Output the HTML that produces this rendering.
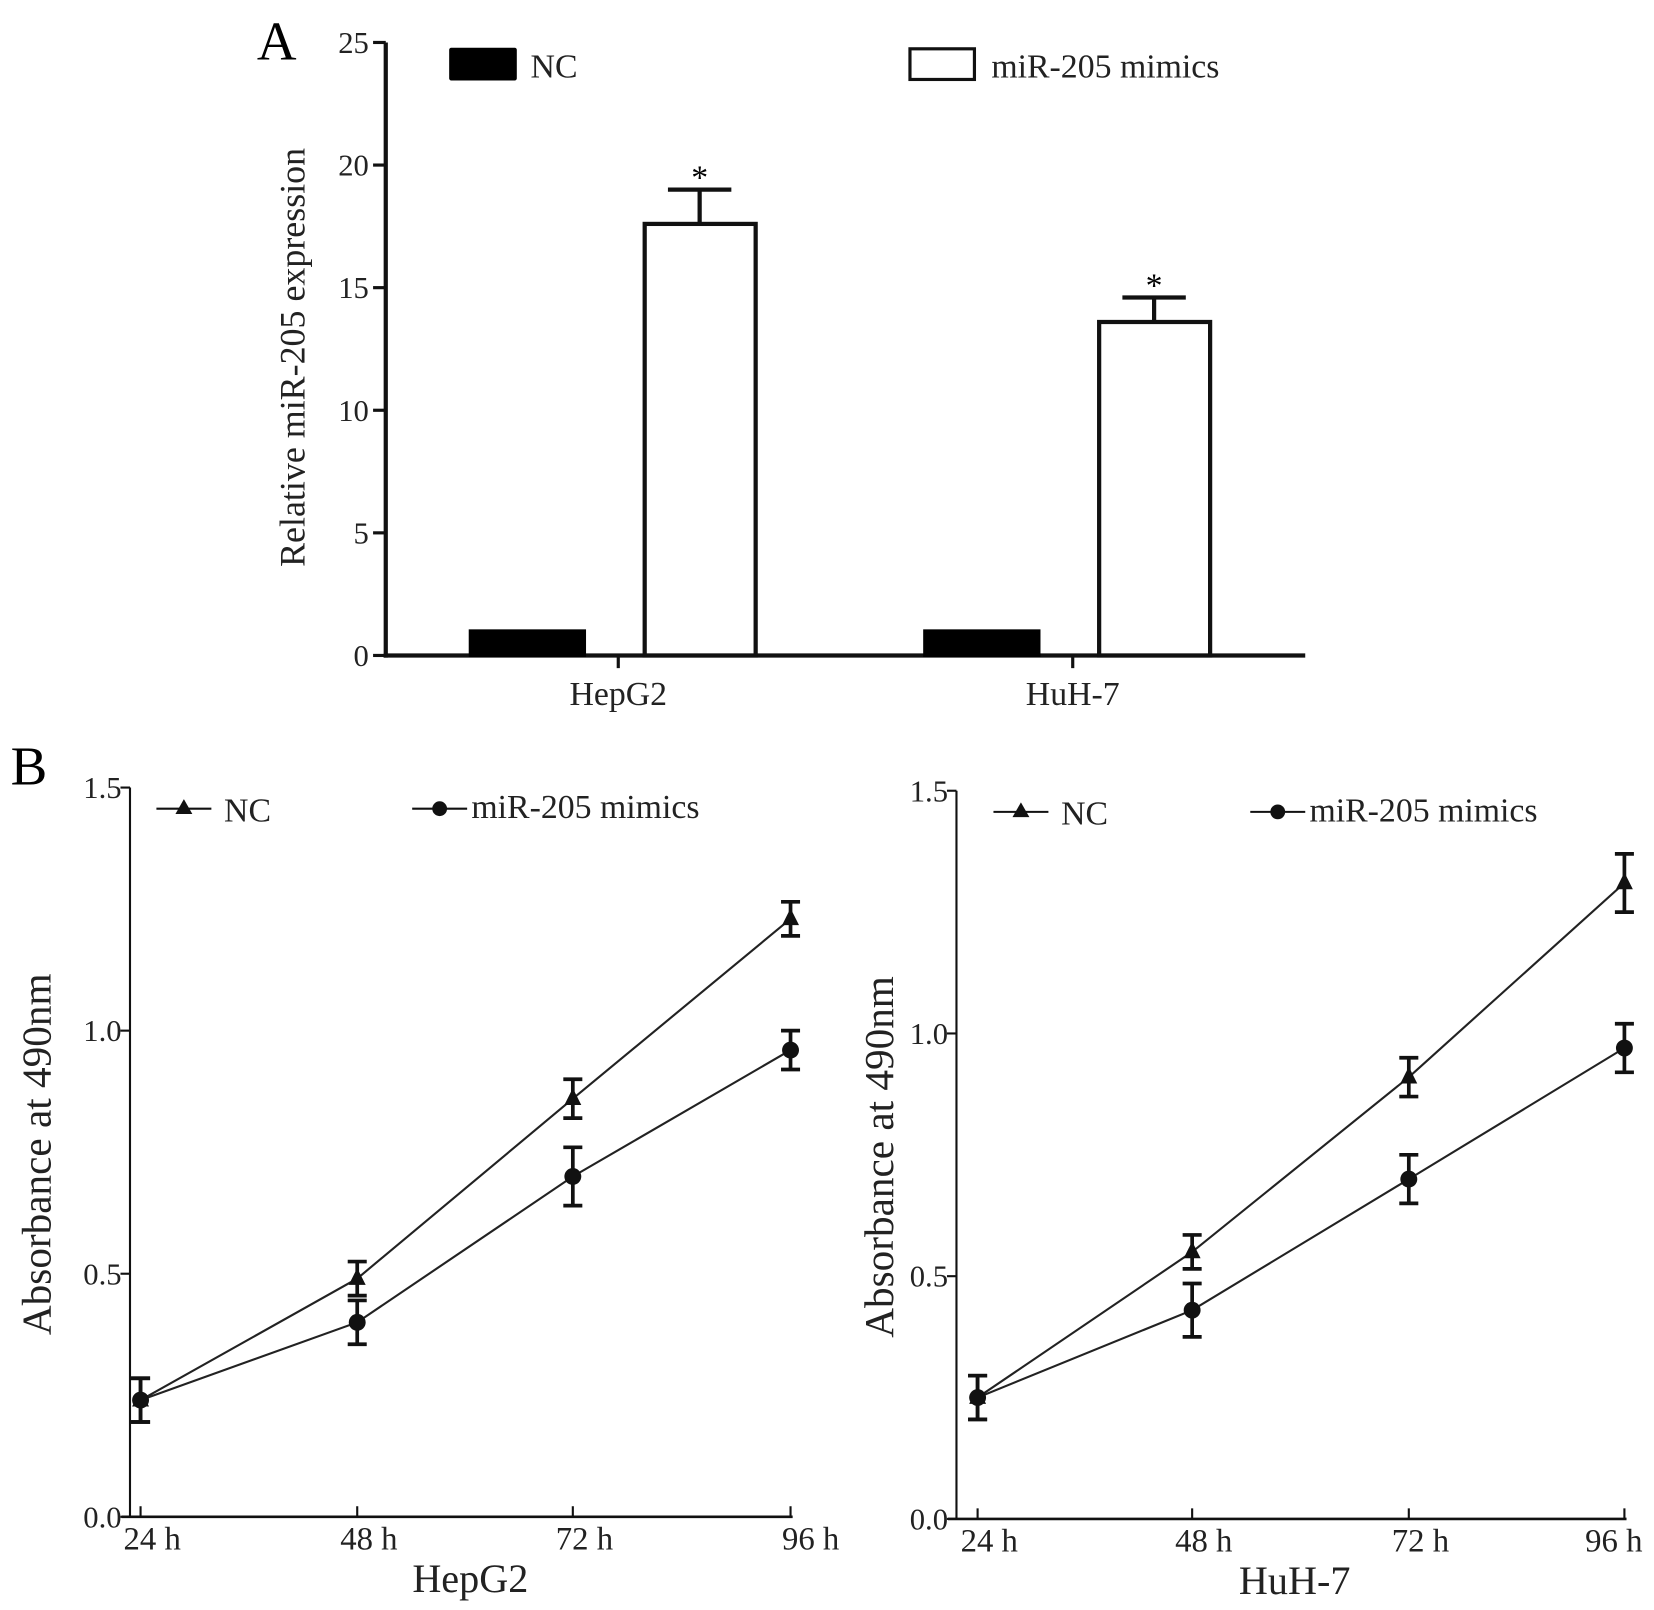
<!DOCTYPE html>
<html><head><meta charset="utf-8"><style>
html,body{margin:0;padding:0;background:#fff;}
svg{display:block;font-family:"Liberation Serif",serif;}
</style></head><body>
<svg id="fig" width="1654" height="1610" viewBox="0 0 1565 1523" xmlns="http://www.w3.org/2000/svg">
<rect width="1565" height="1523" fill="#fff"/>
<g id="panelA"></g>
<g id="panelB1"></g>
<g id="panelB2"></g>
</svg>
<script>
// Panel A data
const aCategories = ["HepG2", "HuH-7"];
const aNC = [1.0, 1.0];
const aMimics = [17.6, 13.6];
const aMimicsErr = [1.4, 1.0];
const aTicks = [0, 5, 10, 15, 20, 25];
// Panel B data
const bTimes = ["24 h", "48 h", "72 h", "96 h"];
const bTicks = [0.0, 0.5, 1.0, 1.5];
const hepNC = [0.24, 0.49, 0.86, 1.23];
const hepNCErr = [0.045, 0.035, 0.04, 0.035];
const hepMim = [0.24, 0.40, 0.70, 0.96];
const hepMimErr = [0.045, 0.045, 0.06, 0.04];
const huhNC = [0.25, 0.55, 0.91, 1.31];
const huhNCErr = [0.045, 0.035, 0.04, 0.06];
const huhMim = [0.25, 0.43, 0.70, 0.97];
const huhMimErr = [0.045, 0.055, 0.05, 0.05];

const NS = "http://www.w3.org/2000/svg";
function mk(parent, tag, attrs, text){
  const e = document.createElementNS(NS, tag);
  for (const k in attrs) e.setAttribute(k, attrs[k]);
  if (text !== undefined) e.textContent = text;
  parent.appendChild(e);
  return e;
}
function ln(p, x1,y1,x2,y2,w){ return mk(p,'line',{x1,y1,x2,y2,stroke:'#111','stroke-width':w||3}); }

// ---------- Panel A ----------
(function(){
  const g = document.getElementById('panelA');
  const x0 = 365, x1 = 1235, yb = 620, yt = 40;
  const y = v => yb - (v/25)*(yb-yt);
  const catCenter = [585, 1015];
  let t = mk(g,'text',{x:243,y:56,'font-size':52},'A');
   
  ln(g,x0,yt,x0,yb+2,4); ln(g,x0-2,yb,x1,yb,4);
  aTicks.forEach(v=>{
    ln(g,x0-12,y(v),x0,y(v),3);
    const tt = mk(g,'text',{x:x0-16,y:y(v)+10,'font-size':29,'text-anchor':'end',fill:'#222'},String(v));
     
  });
  const yt2 = mk(g,'text',{x:0,y:0,'font-size':34,'text-anchor':'middle',fill:'#222',transform:'translate(288,338) rotate(-90)'},'Relative miR-205 expression');
   
  aCategories.forEach((c,i)=>{
    const cx = catCenter[i];
    ln(g,cx,yb,cx,yb+12,3);
    const lb = mk(g,'text',{x:cx,y:yb+47,'font-size':32,'text-anchor':'middle',fill:'#222'},c);
     
    const b1 = mk(g,'rect',{x:cx-140,y:y(aNC[i]),width:108,height:yb-y(aNC[i]),fill:'#000',stroke:'#000','stroke-width':3});
     
    const bx = cx+25;
    const b2 = mk(g,'rect',{x:bx,y:y(aMimics[i]),width:105,height:yb-y(aMimics[i]),fill:'#fff',stroke:'#111','stroke-width':4});
     
    const ex = bx+52, et = y(aMimics[i]+aMimicsErr[i]);
    ln(g,ex,y(aMimics[i]),ex,et,4); ln(g,ex-30,et,ex+30,et,4);
    const st = mk(g,'text',{x:ex,y:et-1,'font-size':32,'text-anchor':'middle'},'*');
     
  });
  const l1 = mk(g,'rect',{x:425,y:45,width:64,height:31,fill:'#000',rx:2});
   
  const lt1 = mk(g,'text',{x:502,y:73,'font-size':32,fill:'#222'},'NC');
   
  const l2 = mk(g,'rect',{x:861,y:46,width:61,height:29,fill:'#fff',stroke:'#111','stroke-width':3});
   
  const lt2 = mk(g,'text',{x:938,y:73,'font-size':32,fill:'#222'},'miR-205 mimics');
   
})();

// ---------- Panel B ----------
function linePanel(id, cfg, nc, ncErr, mim, mimErr){
  const g = document.getElementById(id);
  const {ax, yb, yt, xs, xEnd, legX, legY, title, titleX, ytX, letter, lastOff} = cfg;
  const y = v => yb - (v/1.5)*(yb-yt);
  ln(g,ax,yt,ax,yb+1,2); ln(g,ax-8,yb,xEnd,yb,2.5);
  bTicks.forEach(v=>{
    ln(g,ax-9,y(v),ax,y(v),2);
    const tt = mk(g,'text',{x:ax-8,y:y(v)+10,'font-size':29,'text-anchor':'end',fill:'#222'},v.toFixed(1));
     
  });
  bTimes.forEach((tl,i)=>{
    ln(g,xs[i],yb,xs[i],yb-10,2);
    const off = (i === bTimes.length-1) ? lastOff : 11;
    const lb = mk(g,'text',{x:xs[i]+off,y:yb+31,'font-size':31,'text-anchor':'middle',fill:'#222'},tl);
     
  });
  const xt = mk(g,'text',{x:titleX,y:yb+71,'font-size':38,'text-anchor':'middle',fill:'#222'},title);
   
  const ytl = mk(g,'text',{x:0,y:0,'font-size':39,'text-anchor':'middle',fill:'#222',transform:`translate(${ytX},${(yb+yt)/2+2}) rotate(-90)`},'Absorbance at 490nm');
   
  if (letter){ const L = mk(g,'text',{x:10,y:742,'font-size':52},letter);   }
  function series(vals, errs, kind){
    const pts = vals.map((v,i)=>xs[i]+','+y(v)).join(' ');
    const pl = mk(g,'polyline',{points:pts,fill:'none',stroke:'#222','stroke-width':2});
     
    vals.forEach((v,i)=>{
      const x = xs[i], a = y(v+errs[i]), b = y(v-errs[i]);
      ln(g,x,a,x,b,3.5); ln(g,x-9,a,x+9,a,3.5); ln(g,x-9,b,x+9,b,3.5);
      let m;
      if (kind==='tri') m = mk(g,'polygon',{points:`${x},${y(v)-10} ${x-8},${y(v)+6} ${x+8},${y(v)+6}`,fill:'#111'});
      else m = mk(g,'circle',{cx:x,cy:y(v),r:8,fill:'#111'});
       
    });
  }
  series(nc, ncErr, 'tri'); series(mim, mimErr, 'dot');
  ln(g,legX[0],legY,legX[0]+52,legY,2);
  const lm1 = mk(g,'polygon',{points:`${legX[0]+26},${legY-9} ${legX[0]+18},${legY+5} ${legX[0]+34},${legY+5}`,fill:'#111'});
   
  const lt1 = mk(g,'text',{x:legX[0]+64,y:legY+12,'font-size':32,fill:'#222'},'NC');
   
  ln(g,legX[1],legY,legX[1]+52,legY,2);
  const lm2 = mk(g,'circle',{cx:legX[1]+26,cy:legY,r:7,fill:'#111'});
   
  const lt2 = mk(g,'text',{x:legX[1]+56,y:legY+9,'font-size':32,fill:'#222'},'miR-205 mimics');
   
}
linePanel('panelB1',{ax:123,yb:1435,yt:745,xs:[133,338,542,748],xEnd:750,legX:[148,390],legY:765,title:'HepG2',titleX:445,ytX:48,letter:'B',lastOff:19},hepNC,hepNCErr,hepMim,hepMimErr);
linePanel('panelB2',{ax:905,yb:1437,yt:748,xs:[925,1128,1333,1537],xEnd:1539,legX:[940,1183],legY:768,title:'HuH-7',titleX:1225,ytX:845,letter:null,lastOff:-10},huhNC,huhNCErr,huhMim,huhMimErr);
</script>
</body></html>
